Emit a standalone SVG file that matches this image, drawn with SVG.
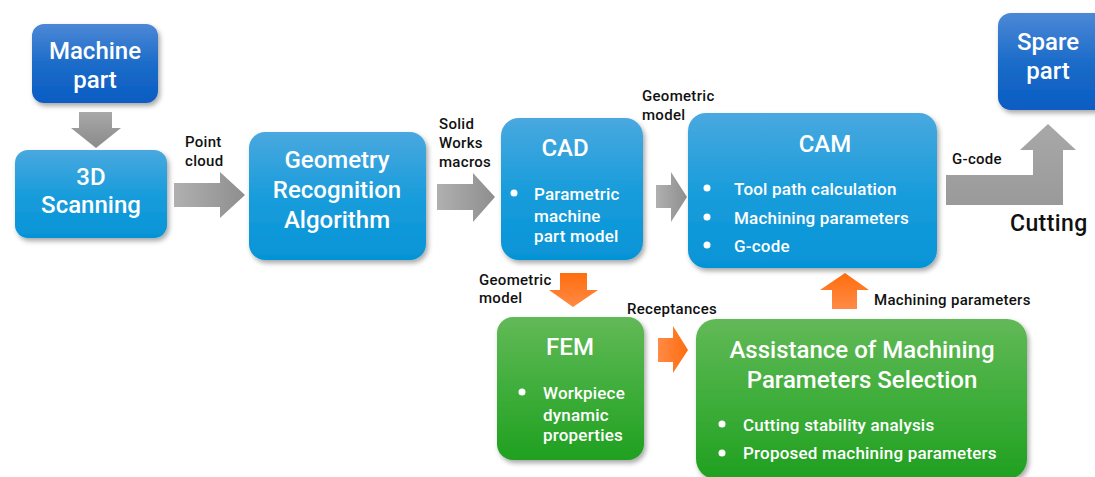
<svg xmlns="http://www.w3.org/2000/svg" width="1095" height="477" viewBox="0 0 1095 477">
<defs>
<linearGradient id="gDark" x1="0" y1="0" x2="0" y2="1"><stop offset="0" stop-color="#4c88d6"/><stop offset="0.5" stop-color="#1c6cc9"/><stop offset="1" stop-color="#0a5cc3"/></linearGradient>
<linearGradient id="gLight" x1="0" y1="0" x2="0" y2="1"><stop offset="0" stop-color="#4aa8df"/><stop offset="0.5" stop-color="#1a9ddb"/><stop offset="1" stop-color="#0594d7"/></linearGradient>
<linearGradient id="gGreen" x1="0" y1="0" x2="0" y2="1"><stop offset="0" stop-color="#62b957"/><stop offset="0.5" stop-color="#3fae3b"/><stop offset="1" stop-color="#20a020"/></linearGradient>
<linearGradient id="gGrayH" x1="0" y1="0" x2="1" y2="0"><stop offset="0" stop-color="#b0b0b0"/><stop offset="1" stop-color="#8e8e8e"/></linearGradient>
<linearGradient id="gGrayV" x1="0" y1="0" x2="0" y2="1"><stop offset="0" stop-color="#a8a8a8"/><stop offset="1" stop-color="#8a8a8a"/></linearGradient>
<linearGradient id="gGrayL" x1="0" y1="0" x2="0" y2="1"><stop offset="0" stop-color="#a8a8a8"/><stop offset="1" stop-color="#9a9a9a"/></linearGradient>
<linearGradient id="gOrangeV" x1="0" y1="0" x2="0" y2="1"><stop offset="0" stop-color="#ff6d0e"/><stop offset="1" stop-color="#ff8a45"/></linearGradient>
<linearGradient id="gOrangeU" x1="0" y1="1" x2="0" y2="0"><stop offset="0" stop-color="#ff8a45"/><stop offset="1" stop-color="#ff6d0e"/></linearGradient>
<linearGradient id="gOrangeH" x1="0" y1="0" x2="1" y2="0"><stop offset="0" stop-color="#ff8a45"/><stop offset="1" stop-color="#ff6d0e"/></linearGradient>
<filter id="sh" x="-10%" y="-10%" width="125%" height="130%"><feDropShadow dx="2" dy="3" stdDeviation="2.5" flood-color="#000" flood-opacity="0.35"/></filter>
<style>
.t{font-family:Roboto,"Liberation Sans",sans-serif;font-weight:500;fill:#fff;text-anchor:middle}
.big{font-size:24px}
.b{font-family:Roboto,"Liberation Sans",sans-serif;font-weight:500;fill:#fff;font-size:17px;letter-spacing:0.2px}
.lab{font-family:Roboto,"Liberation Sans",sans-serif;font-weight:500;fill:#111;font-size:15px;letter-spacing:0.3px}
.dot{fill:#fff}
</style>
</defs>
<rect width="1095" height="477" fill="#fff"/>

<g id="connectors">
<polygon points="79,112 112,112 112,128 121,128 96,148 71,128 79,128" fill="url(#gGrayV)"/>
<polygon points="174,183 220,183 220,172 245,195 220,218 220,207 174,207" fill="url(#gGrayH)"/>
<polygon points="437,184 473,184 473,173 495,197 473,222 473,210 437,210" fill="url(#gGrayH)"/>
<polygon points="656,185 671,185 671,172 687,197 671,222 671,208 656,208" fill="url(#gGrayH)"/>
<polygon points="946,175 1033,175 1033,150 1020,150 1048,124 1076,150 1063,150 1063,205 946,205" fill="url(#gGrayL)"/>
<polygon points="560,273 587,273 587,290 598,290 573,307 549,290 560,290" fill="url(#gOrangeV)"/>
<polygon points="658,338 673,338 673,326 688,350 673,373 673,362 658,362" fill="url(#gOrangeH)"/>
<polygon points="832,309 857,309 857,290 869,290 845,273 820,290 832,290" fill="url(#gOrangeU)"/>
<text class="lab" x="185" y="147">Point</text>
<text class="lab" x="185" y="166">cloud</text>
<text class="lab" x="439" y="129">Solid</text>
<text class="lab" x="439" y="148">Works</text>
<text class="lab" x="439" y="167">macros</text>
<text class="lab" x="642" y="101">Geometric</text>
<text class="lab" x="642" y="120">model</text>
<text class="lab" x="952" y="164">G-code</text>
<text class="lab" x="1010" y="231" style="font-size:23px;letter-spacing:0.4px">Cutting</text>
<text class="lab" x="479" y="285">Geometric</text>
<text class="lab" x="479" y="303">model</text>
<text class="lab" x="627" y="314">Receptances</text>
<text class="lab" x="874" y="305">Machining parameters</text>
</g>

<g id="machine-part">
<rect x="32" y="24" width="126" height="79" rx="12" fill="url(#gDark)" filter="url(#sh)"/>
<text class="t big" x="95" y="59">Machine</text>
<text class="t big" x="95" y="88">part</text>
</g>

<g id="scanning">
<rect x="15" y="150" width="152" height="88" rx="13" fill="url(#gLight)" filter="url(#sh)"/>
<text class="t big" x="91" y="185">3D</text>
<text class="t big" x="91" y="213">Scanning</text>
</g>

<g id="geometry-recognition">
<rect x="249" y="132" width="177" height="128" rx="16" fill="url(#gLight)" filter="url(#sh)"/>
<text class="t big" x="337" y="168">Geometry</text>
<text class="t big" x="337" y="198">Recognition</text>
<text class="t big" x="337" y="228">Algorithm</text>
</g>

<g id="cad">
<rect x="501" y="118" width="142" height="142" rx="18" fill="url(#gLight)" filter="url(#sh)"/>
<text class="t" x="565" y="156" style="font-size:24px">CAD</text>
<circle class="dot" cx="514" cy="193" r="3.5"/>
<text class="b" x="534" y="200">Parametric</text>
<text class="b" x="534" y="222">machine</text>
<text class="b" x="534" y="242">part model</text>
</g>

<g id="cam">
<rect x="688" y="113" width="249" height="155" rx="18" fill="url(#gLight)" filter="url(#sh)"/>
<text class="t" x="825" y="152" style="font-size:24px">CAM</text>
<circle class="dot" cx="707" cy="188" r="3.5"/>
<circle class="dot" cx="707" cy="217" r="3.5"/>
<circle class="dot" cx="707" cy="245" r="3.5"/>
<text class="b" x="734" y="195">Tool path calculation</text>
<text class="b" x="734" y="224">Machining parameters</text>
<text class="b" x="734" y="252">G-code</text>
</g>

<g id="spare-part">
<rect x="998" y="13" width="110" height="97" rx="13" fill="url(#gDark)" filter="url(#sh)"/>
<text class="t big" x="1048" y="50">Spare</text>
<text class="t big" x="1048" y="79">part</text>
</g>

<g id="fem">
<rect x="497" y="317" width="147" height="143" rx="16" fill="url(#gGreen)" filter="url(#sh)"/>
<text class="t" x="570" y="355" style="font-size:24px">FEM</text>
<circle class="dot" cx="522" cy="392" r="3.5"/>
<text class="b" x="543" y="399">Workpiece</text>
<text class="b" x="543" y="421">dynamic</text>
<text class="b" x="543" y="441">properties</text>
</g>

<g id="assistance">
<rect x="696" y="319" width="331" height="160" rx="20" fill="url(#gGreen)" filter="url(#sh)"/>
<text class="t big" x="862" y="358">Assistance of Machining</text>
<text class="t big" x="862" y="388">Parameters Selection</text>
<circle class="dot" cx="722" cy="424" r="3.5"/>
<circle class="dot" cx="722" cy="453" r="3.5"/>
<text class="b" x="743" y="431">Cutting stability analysis</text>
<text class="b" x="743" y="459">Proposed machining parameters</text>
</g>
</svg>
